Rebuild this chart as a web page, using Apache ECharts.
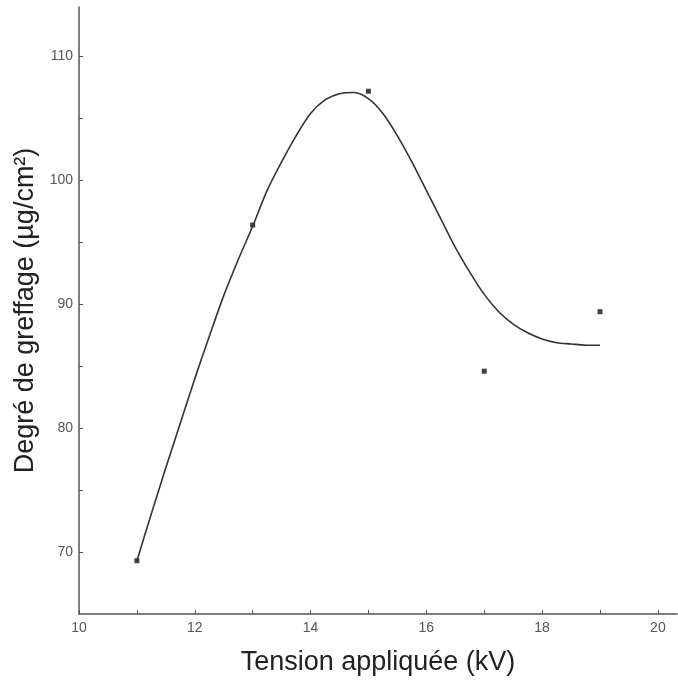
<!DOCTYPE html>
<html>
<head>
<meta charset="utf-8">
<script src="https://cdn.jsdelivr.net/npm/echarts@6/dist/echarts.min.js"></script>
<style>
  html, body { margin: 0; padding: 0; background: #fff; }
  #chart { width: 678px; height: 681px; }
</style>
</head>
<body>
<div id="chart"></div>
<script>
// mesures : tension (kV) / degré de greffage (µg/cm²)
var tension = [11, 13, 15, 17, 19]
var greffage = [69.3, 96.4, 107.2, 84.6, 89.4]

// courbe lissée (pas de 0.25 kV)
var courbeX = [11, 11.25, 11.5, 11.75, 12, 12.25, 12.5, 12.75, 13, 13.25, 13.5, 13.75, 14, 14.25, 14.5, 14.75,
  15, 15.25, 15.5, 15.75, 16, 16.25, 16.5, 16.75, 17, 17.25, 17.5, 17.75, 18, 18.25, 18.5, 18.75, 19]
var courbeY = [69.3, 73.1, 76.8, 80.4, 84.0, 87.4, 90.7, 93.6, 96.3, 99.2, 101.5, 103.6, 105.4, 106.5, 107.0, 107.1,
  106.6, 105.4, 103.6, 101.5, 99.2, 96.9, 94.6, 92.6, 90.8, 89.4, 88.4, 87.7, 87.2, 86.9, 86.8, 86.7, 86.7]

// graduations
var xLabels = [10, 12, 14, 16, 18, 20]
var xTickMarks = [10, 11, 12, 13, 14, 15, 16, 17, 18, 19, 20]
var yLabels = [70, 80, 90, 100, 110]
var yTickMarks = [70, 75, 80, 85, 90, 95, 100, 105, 110]

function pairs (xs, ys) {
  var out = []
  for (var i = 0; i < xs.length; i++) {
    out.push([xs[i], ys[i]])
  }
  return out
}

var axisCol = '#555'
var myChart = echarts.init(document.getElementById('chart'));

var option = {
  animation: false,
  grid: {
    left: 79,
    right: 1,
    top: 7,
    bottom: 64
  },
  xAxis: {
    type: 'value',
    min: 10,
    max: 20.33,
    interval: 1,
    name: 'Tension appliquée (kV)',
    nameLocation: 'middle',
    nameGap: 35,
    nameTextStyle: { fontSize: 27, color: '#222', fontFamily: 'Liberation Sans' },
    axisLine: { lineStyle: { color: axisCol, width: 1.5 } },
    axisTick: {
      inside: true,
      length: 4,
      lineStyle: { color: axisCol },
      customValues: xTickMarks
    },
    axisLabel: {
      margin: 7,
      fontSize: 14,
      color: axisCol,
      fontFamily: 'Liberation Sans',
      customValues: xLabels
    },
    splitLine: { show: false }
  },
  yAxis: {
    type: 'value',
    min: 65,
    max: 114,
    interval: 5,
    name: 'Degré de greffage (µg/cm²)',
    nameLocation: 'middle',
    nameGap: 34,
    nameTextStyle: { fontSize: 27, color: '#222', fontFamily: 'Liberation Sans' },
    axisLine: { show: true, lineStyle: { color: axisCol, width: 1.5 } },
    axisTick: {
      inside: true,
      length: 4,
      lineStyle: { color: axisCol },
      customValues: yTickMarks
    },
    axisLabel: {
      margin: 6,
      fontSize: 14,
      color: axisCol,
      fontFamily: 'Liberation Sans',
      customValues: yLabels
    },
    splitLine: { show: false }
  },
  series: [
    {
      name: 'courbe',
      type: 'line',
      data: pairs(courbeX, courbeY),
      smooth: 0.3,
      showSymbol: false,
      lineStyle: { color: '#333', width: 1.6 }
    },
    {
      name: 'mesures',
      type: 'scatter',
      data: pairs(tension, greffage),
      symbol: 'rect',
      symbolSize: 5,
      itemStyle: { color: '#111' }
    }
  ]
};

myChart.setOption(option)
</script>
</body>
</html>
